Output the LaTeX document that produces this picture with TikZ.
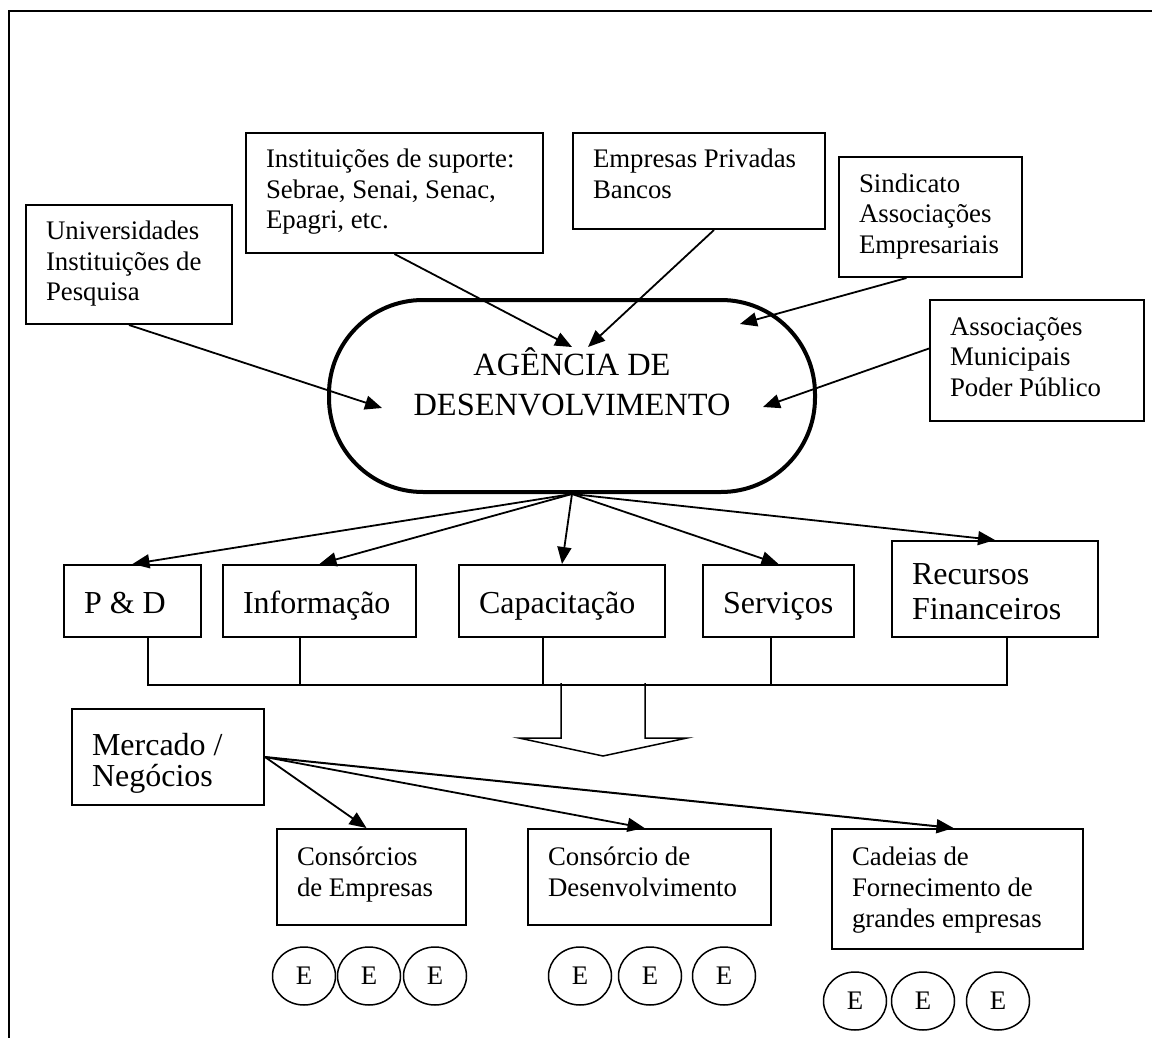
\documentclass[tikz,border=0pt]{standalone}
\usepackage{fontspec}
\setmainfont{Liberation Serif}
\usetikzlibrary{arrows.meta,shapes.geometric}

% text block of fixed size: width, height, first baseline, line spacing, text
\newcommand\boxlines[5]{%
  \parbox[t][#2][t]{#1}{\raggedright\leftskip=10pt\relax
    \baselineskip=#4\relax\rule{0pt}{#3}#5\par}}
% centred variant for the agency
\newcommand\centrelines[5]{%
  \parbox[t][#2][t]{#1}{\centering
    \baselineskip=#4\relax\rule{0pt}{#3}#5\par}}
\newcommand\smalltype{\fontsize{13.4pt}{15.25pt}\selectfont}
\newcommand\largetype{\fontsize{16pt}{19pt}\selectfont}

\begin{document}
\begin{tikzpicture}[x=0.5pt,y=-0.5pt,
  frame/.style={line width=0.8pt},
  tbox/.style={draw,line width=1pt,inner sep=0pt,anchor=north west},
  upper/.style={tbox,font=\smalltype},
  middle/.style={tbox,font=\largetype},
  hub/.style={draw,line width=2pt,rounded corners=47pt,inner sep=0pt,
    font=\fontsize{16.2pt}{20pt}\selectfont},
  arr/.style={-{Triangle[length=8.5pt,width=7pt]},line width=0.9pt},
  bus/.style={line width=0.75pt},
  firm/.style={draw,ellipse,line width=0.75pt,minimum width=31.5pt,
    minimum height=29pt,inner sep=0pt,font=\smalltype},
]
\useasboundingbox (0,0) rectangle (1152,1038);
\draw[frame] (9,1038) -- (9,11) -- (1152,11);

% supporting institutions
\node[upper] (univ) at (25,204)
  {\boxlines{103pt}{59.5pt}{17.5pt}{15.25pt}{Universidades\\Instituições de\\Pesquisa}};
\node[upper] (inst) at (245,132)
  {\boxlines{148.5pt}{60pt}{17.5pt}{15.25pt}{Instituições de suporte:\\Sebrae, Senai, Senac,\\Epagri, etc.}};
\node[upper] (priv) at (572,132)
  {\boxlines{126pt}{48pt}{17.5pt}{15.25pt}{Empresas Privadas\\Bancos}};
\node[upper] (sind) at (838,156)
  {\boxlines{91.5pt}{60pt}{17.5pt}{15.25pt}{Sindicato\\Associações\\Empresariais}};
\node[upper] (munic) at (929,299)
  {\boxlines{107pt}{60.5pt}{17.5pt}{15.25pt}{Associações\\Municipais\\Poder Público}};

% central agency
\node[hub] (agency) at (572,396)
  {\centrelines{243pt}{96pt}{37.5pt}{20pt}{AGÊNCIA DE\\DESENVOLVIMENTO}};

\coordinate (inU) at (382,408);
\coordinate (inI) at (572,347);
\coordinate (inP) at (588,347);
\coordinate (inS) at (740,324);
\coordinate (inM) at (763,407);

\draw[arr] (univ.south) -- (inU);
\draw[arr] (inst.south) -- (inI);
\draw[arr] ([xshift=7.5pt]priv.south) -- (inP);
\draw[arr] ([xshift=-12pt]sind.south) -- (inS);
\draw[arr] ([yshift=6pt]munic.west) -- (inM);

% services offered
\node[middle] (rd) at (63,564) {\boxlines{68.5pt}{36pt}{24pt}{17.5pt}{P \& D}};
\node[middle] (info) at (222,564) {\boxlines{96.5pt}{36pt}{24pt}{17.5pt}{Informação}};
\node[middle] (train) at (458,564) {\boxlines{103pt}{36pt}{24pt}{17.5pt}{Capacitação}};
\node[middle] (serv) at (702,564) {\boxlines{75.5pt}{36pt}{24pt}{17.5pt}{Serviços}};
\node[middle] (fin) at (891,540) {\boxlines{103pt}{48pt}{21.5pt}{17.5pt}{Recursos\\Financeiros}};

\foreach \t in {rd,info,train,serv,fin}
  \draw[arr] (agency.south) -- (\t.north);

% collecting bus and hollow arrow
\draw[bus] ([xshift=7.75pt]rd.south) -- ++(0,47) -| ([xshift=6pt]fin.south);
\draw[bus] ([xshift=-9.75pt]info.south) -- ++(0,47);
\draw[bus] ([xshift=-9.5pt]train.south) -- ++(0,47);
\draw[bus] ([xshift=-3.75pt]serv.south) -- ++(0,47);
\draw[bus] (561,683) -- (561,738) -- (519,738) -- (603,756) -- (687,738) -- (645,738) -- (645,683);

% market and business forms
\node[middle] (market) at (71,708) {\boxlines{96pt}{48pt}{23pt}{15.5pt}{Mercado /\\Negócios}};
\node[upper] (cons) at (276,828)
  {\boxlines{94.5pt}{48pt}{18pt}{15.5pt}{Consórcios\\de Empresas}};
\node[upper] (dev) at (527,828)
  {\boxlines{121.5pt}{48pt}{18pt}{15.5pt}{Consórcio de\\Desenvolvimento}};
\node[upper] (chain) at (831,828)
  {\boxlines{125.5pt}{60pt}{18pt}{15.5pt}{Cadeias de\\Fornecimento de\\grandes empresas}};

\draw[arr] (market.east) -- ([xshift=-2.5pt]cons.north);
\draw[arr] (market.east) -- ([xshift=-2.5pt]dev.north);
\draw[arr,line width=1pt] (market.east) -- ([xshift=-2pt]chain.north);

% firms
\foreach \n/\x/\y in {e1/304/976,e2/369/976,e3/435/976,
                      e4/580/976,e5/650/976,e6/724/976,
                      e7/855/1001,e8/923/1001,e9/998/1001}
  \node[firm] (\n) at (\x,\y) {E};
\end{tikzpicture}
\end{document}
